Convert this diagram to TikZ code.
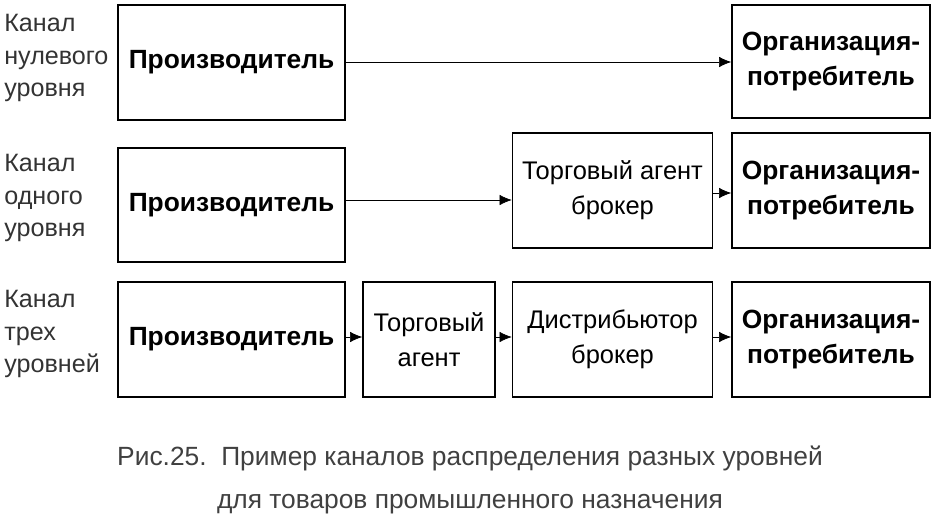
\documentclass[tikz,border=0pt]{standalone}
\usepackage{fontspec}
\setmainfont{Liberation Sans}
\usetikzlibrary{positioning,arrows.meta}
\begin{document}
\begin{tikzpicture}[x=0.02cm,y=-0.02cm,
	box/.style={draw,thick,inner sep=0pt,align=center,font=\fontsize{14.5}{20}\selectfont},
	bigbox/.style={box,font=\bfseries\fontsize{15}{20}\selectfont},
	lbl/.style={anchor=north west,align=left,inner sep=0pt,font=\fontsize{14.3}{18.5}\selectfont,text=black!80},
	arr/.style={-{Latex[length=7pt,width=6pt]}}
]
	\useasboundingbox (0,0) rectangle (940,514);
	%% канал нулевого уровня
	\node[bigbox,minimum width=227*0.02cm,minimum height=115*0.02cm] (p1) at (231.5,62.5) {Производитель};
	\node[bigbox,minimum width=198*0.02cm,minimum height=113*0.02cm] (o1) at (831,61.5) {Организация-\\потребитель};
	\node[lbl] (l1) at (4,14) {Канал\\нулевого\\уровня};
	%% канал одного уровня
	\node[bigbox,minimum width=227*0.02cm,minimum height=114*0.02cm] (p2) at (231.5,205) {Производитель};
	\node[box,minimum width=200*0.02cm,minimum height=115*0.02cm] (a2) at (612.5,190.5) {Торговый агент\\брокер};
	\node[bigbox,minimum width=198*0.02cm,minimum height=115*0.02cm] (o2) at (831,190.5) {Организация-\\потребитель};
	\node[lbl] (l2) at (4,154) {Канал\\одного\\уровня};
	%% канал трех уровней
	\node[bigbox,minimum width=227*0.02cm,minimum height=115*0.02cm] (p3) at (231.5,339.5) {Производитель};
	\node[box,minimum width=132*0.02cm,minimum height=115*0.02cm] (a3) at (429,339.5) {Торговый\\агент};
	\node[box,minimum width=200*0.02cm,minimum height=115*0.02cm] (d3) at (612.5,339.5) {Дистрибьютор\\брокер};
	\node[bigbox,minimum width=198*0.02cm,minimum height=115*0.02cm] (o3) at (831,339.5) {Организация-\\потребитель};
	\node[lbl] (l3) at (4,290) {Канал\\трех\\уровней};
	% стрелки
	\draw[arr] (p1.east |- 0,62) -- (o1.west |- 0,62);
	\draw[arr] (p2.east |- 0,200) -- (a2.west |- 0,200);
	\draw[arr] (a2.east |- 0,193) -- (o2.west |- 0,193);
	\draw[arr] (p3.east |- 0,337) -- (a3.west |- 0,337);
	\draw[arr] (a3.east |- 0,337) -- (d3.west |- 0,337);
	\draw[arr] (d3.east |- 0,337) -- (o3.west |- 0,337);
	%% подпись
	\node[align=center,text=black!75,font=\fontsize{15}{24}\selectfont] (cap) at (470,480) {Рис.25.\ \ Пример каналов распределения разных уровней\\для товаров промышленного назначения};
\end{tikzpicture}
\end{document}
